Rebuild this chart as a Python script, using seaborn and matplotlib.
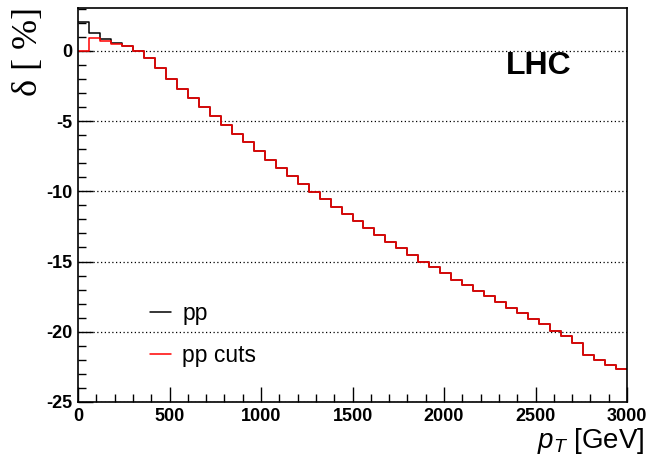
import matplotlib
matplotlib.use("Agg")
import matplotlib.pyplot as plt
from matplotlib.ticker import MultipleLocator
import numpy as np
import seaborn as sns

# 50 bins of 60 GeV
bin_edges = np.linspace(0, 3000, 51)
delta_pp = [2.05, 1.29, 0.81, 0.55, 0.38, 0.02, -0.52, -1.19, -1.98, -2.71,
            -3.36, -4.00, -4.62, -5.26, -5.90, -6.52, -7.12, -7.74, -8.31, -8.88,
            -9.45, -10.02, -10.54, -11.09, -11.59, -12.13, -12.58, -13.08, -13.58, -14.01,
            -14.53, -15.00, -15.36, -15.79, -16.28, -16.67, -17.08, -17.48, -17.88, -18.28,
            -18.68, -19.09, -19.44, -19.94, -20.28, -20.78, -21.65, -22.01, -22.36, -22.65]
delta_pp_cuts = [0.0, 0.88, 0.71, 0.50, 0.36] + delta_pp[5:]
series_labels = ["pp", "pp cuts"]
series_colors = ["black", "#ff0000"]

sns.set_style("ticks")
plt.rcParams["font.family"] = ["Liberation Sans", "DejaVu Sans"]
plt.rcParams["axes.unicode_minus"] = False
plt.rcParams["mathtext.fontset"] = "custom"
plt.rcParams["mathtext.it"] = "Liberation Sans:italic"
plt.rcParams["mathtext.rm"] = "Liberation Sans"
plt.rcParams["text.color"] = "black"
plt.rcParams["xtick.color"] = "black"
plt.rcParams["ytick.color"] = "black"

fig = plt.figure(figsize=(6.47, 4.57), dpi=100)
ax = fig.add_axes([78 / 647, 1 - 402 / 457, 549 / 647, 394 / 457])

for vals, lab, col in zip([delta_pp, delta_pp_cuts], series_labels, series_colors):
    # repeat last value so the final bin gets its full width
    y_step = np.append(vals, vals[-1])
    sns.lineplot(x=bin_edges, y=y_step, drawstyle="steps-post", estimator=None,
                 color=col, linewidth=1.1, label=lab, ax=ax)

ax.set_xlim(0, 3000)
ax.set_ylim(-25, 3.05)
ax.xaxis.set_major_locator(MultipleLocator(500))
ax.xaxis.set_minor_locator(MultipleLocator(100))
ax.yaxis.set_major_locator(MultipleLocator(5))
ax.yaxis.set_minor_locator(MultipleLocator(1))
ax.tick_params(which="both", direction="in", top=False, right=False, labelsize=13, pad=4,
               colors="black")
ax.tick_params(which="major", length=11, width=1)
ax.tick_params(which="minor", length=6, width=1)
for lbl in ax.get_xticklabels() + ax.get_yticklabels():
    lbl.set_fontweight("bold")
ax.yaxis.grid(True, which="major", linestyle=(0, (1, 2)), color="black", linewidth=0.9)
for sp in ax.spines.values():
    sp.set_visible(True)
    sp.set_linewidth(1.2)
    sp.set_color("black")
ax.set_xlabel("")
ax.set_ylabel("")

fig.text(644 / 647, 1 - 441 / 457, r"$p_T$ [GeV]", fontsize=20, ha="right", va="center")
fig.text(29 / 647, 1 - 7 / 457, "δ [ %]", fontsize=26, rotation=90, ha="center", va="top",
         family=["Liberation Serif", "DejaVu Serif"])
fig.text(506 / 647, 1 - 66 / 457, "LHC", fontsize=23, fontweight="bold", ha="left", va="center")

ax.legend(loc="upper left", bbox_to_anchor=(150 / 647, 1 - 302 / 457),
          bbox_transform=fig.transFigure, frameon=False, fontsize=16.5,
          handlelength=0.9, handletextpad=0.5, labelspacing=0.85, borderpad=0, borderaxespad=0)

fig.savefig("out.png", dpi=100)
